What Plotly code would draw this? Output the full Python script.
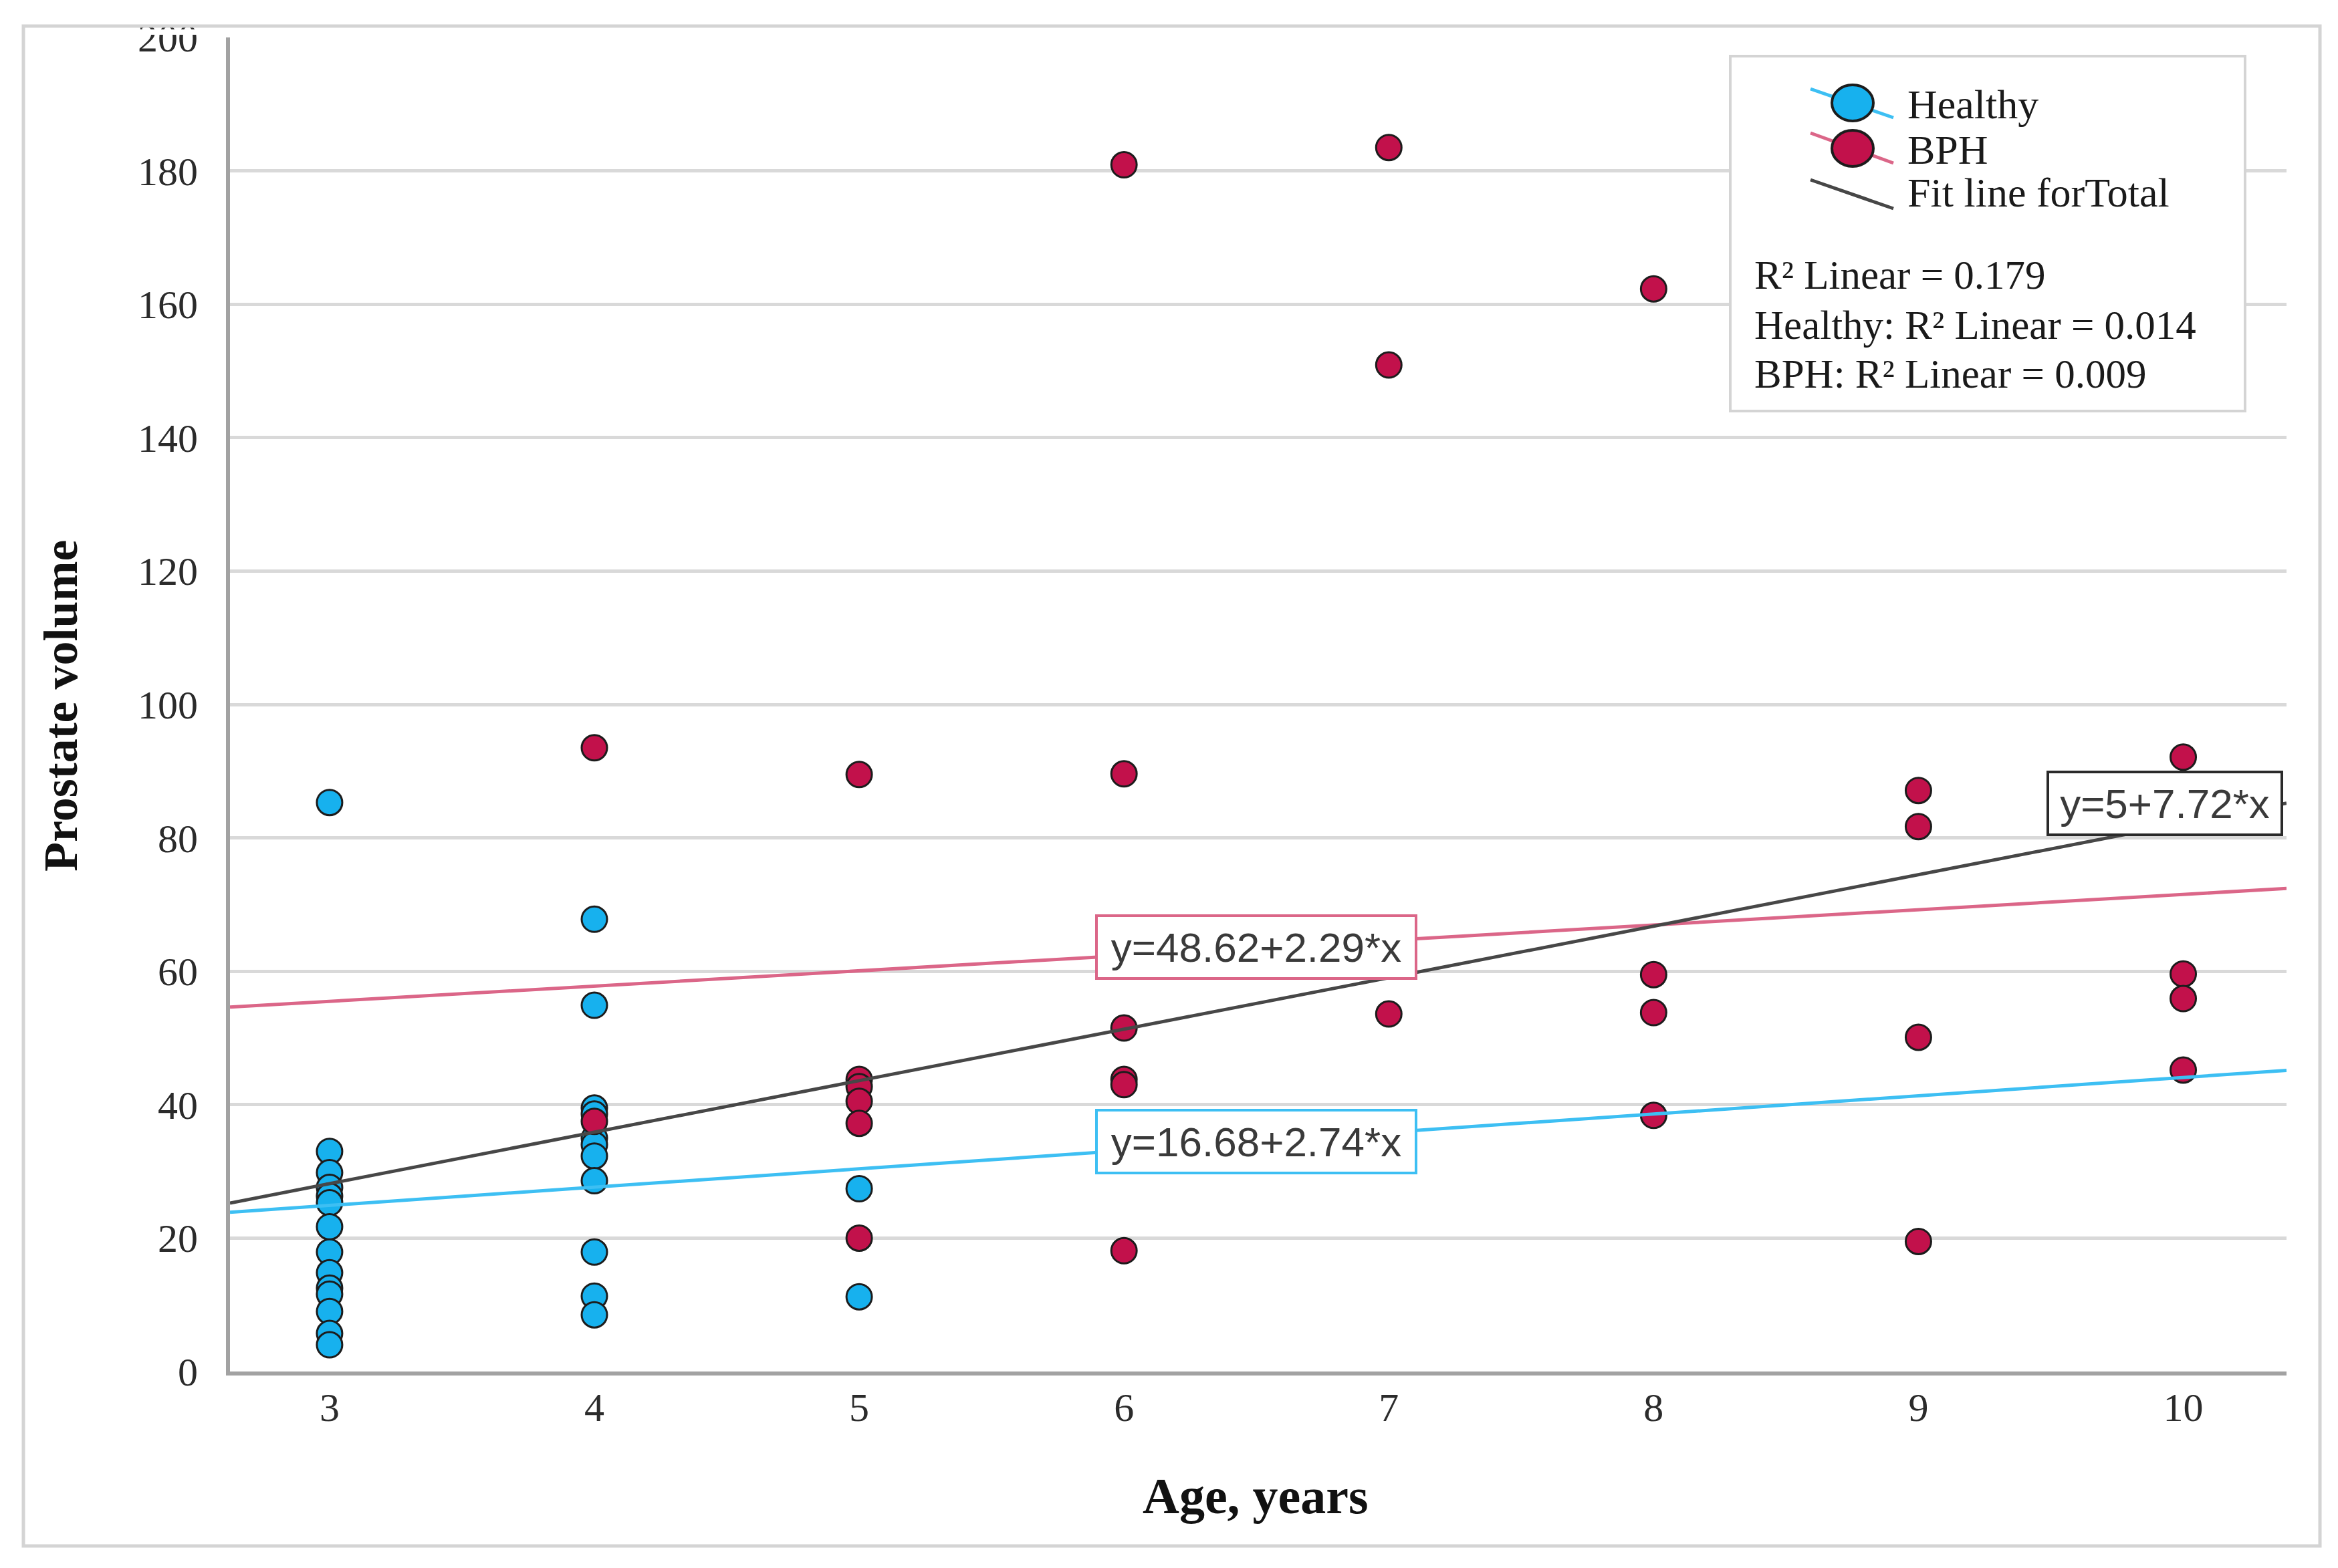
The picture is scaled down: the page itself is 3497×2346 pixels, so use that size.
import numpy as np
import plotly.graph_objects as go

# ---------------- data ----------------
healthy_age = [3] * 14 + [4] * 11 + [5] * 2
healthy_volume = [85.3, 33.0, 29.8, 27.6, 26.3, 25.3, 21.7, 17.9, 14.8, 12.5, 11.6, 9.0, 5.7, 4.0,
                  67.8, 54.9, 39.5, 38.6, 35.0, 34.0, 32.3, 28.6, 17.9, 11.3, 8.5,
                  27.4, 11.2]

bph_age = [4] * 2 + [5] * 6 + [6] * 6 + [7] * 3 + [8] * 4 + [9] * 4 + [10] * 4
bph_volume = [93.5, 37.5,
              89.5, 43.8, 42.7, 40.5, 37.2, 20.0,
              180.9, 89.6, 51.5, 43.8, 43.0, 18.1,
              183.5, 150.9, 53.6,
              162.3, 59.5, 53.8, 38.4,
              87.1, 81.7, 50.1, 19.5,
              92.1, 59.6, 55.9, 45.2]

fit_groups = ["BPH", "Healthy", "Total"]
fit_intercepts = [48.62, 16.68, 5.0]
fit_slopes = [2.29, 2.74, 7.72]
fit_equations = ["y=48.62+2.29*x", "y=16.68+2.74*x", "y=5+7.72*x"]
r2_lines = ["R² Linear = 0.179", "Healthy: R² Linear = 0.014", "BPH: R² Linear = 0.009"]
legend_labels = ["Healthy", "BPH", "Fit line forTotal"]

x_range = [2.624, 10.39]
x_ticks = [3, 4, 5, 6, 7, 8, 9, 10]
y_ticks = [0, 20, 40, 60, 80, 100, 120, 140, 160, 180, 200]

# ---------------- styles ----------------
W, H = 3497, 2346
ML, MR, MT, MB = 336, 85, 48, 302
PW = W - ML - MR
PH = H - MT - MB


def px(x):
    return (x - ML) / PW


def py(y):
    return (H - MB - y) / PH


HEALTHY_FILL = "#17B1EE"
BPH_FILL = "#C2114B"
HEALTHY_LINE = "#3DBFF3"
BPH_LINE = "#DB6688"
TOTAL_LINE = "#474747"
OUTLINE = "#1c1c1c"
GRID = "#d9d9d9"
AXIS = "#a2a2a2"
SERIF = "Liberation Serif"
SANS = "Liberation Sans"

line_colors = {"BPH": BPH_LINE, "Healthy": HEALTHY_LINE, "Total": TOTAL_LINE}
label_pos = {"BPH": (6.5, 63.6), "Healthy": (6.5, 34.5), "Total": (9.93, 85.2)}
label_border = {"BPH": BPH_LINE, "Healthy": HEALTHY_LINE, "Total": "#2a2a2a"}
label_width = {"BPH": 474, "Healthy": 474, "Total": 346}

fig = go.Figure()

fig.add_trace(go.Scatter(
    x=healthy_age, y=healthy_volume, mode="markers", name="Healthy",
    marker=dict(size=38, color=HEALTHY_FILL, line=dict(color=OUTLINE, width=3)),
    showlegend=False))
fig.add_trace(go.Scatter(
    x=bph_age, y=bph_volume, mode="markers", name="BPH",
    marker=dict(size=38, color=BPH_FILL, line=dict(color=OUTLINE, width=3)),
    showlegend=False))

xr = np.array(x_range)
for g, a, b in zip(fit_groups, fit_intercepts, fit_slopes):
    fig.add_trace(go.Scatter(
        x=xr, y=a + b * xr, mode="lines", name=g,
        line=dict(color=line_colors[g], width=5), showlegend=False))

annotations = []
for g, eq in zip(fit_groups, fit_equations):
    lx, ly = label_pos[g]
    annotations.append(dict(
        x=lx, y=ly, xref="x", yref="y", text=eq, showarrow=False,
        xanchor="center", yanchor="middle",
        font=dict(family=SANS, size=62, color="#3a3a3a"),
        bgcolor="white", bordercolor=label_border[g], borderwidth=4,
        borderpad=0, width=label_width[g], height=90, align="center"))

# axis titles
annotations.append(dict(
    x=px(83), y=py(1048), xref="paper", yref="paper", text="<b>Prostate volume</b>",
    textangle=-90, showarrow=False, xanchor="center", yanchor="middle",
    font=dict(family=SERIF, size=72, color="#111111")))
annotations.append(dict(
    x=px(1870), y=py(2230), xref="paper", yref="paper", text="<b>Age, years</b>",
    showarrow=False, xanchor="center", yanchor="middle",
    font=dict(family=SERIF, size=76, color="#111111")))

# legend texts
for lbl, yy in zip(legend_labels, [148, 216, 280]):
    annotations.append(dict(
        x=px(2843), y=py(yy), xref="paper", yref="paper", text=lbl, showarrow=False,
        xanchor="left", yanchor="middle", font=dict(family=SERIF, size=62, color="#1a1a1a")))
for lbl, yy in zip(r2_lines, [404, 479, 551]):
    annotations.append(dict(
        x=px(2614), y=py(yy), xref="paper", yref="paper", text=lbl, showarrow=False,
        xanchor="left", yanchor="middle", font=dict(family=SERIF, size=61, color="#1a1a1a")))

shapes = []
# outer frame
shapes.append(dict(type="rect", xref="paper", yref="paper",
                   x0=px(27), x1=px(3462), y0=py(2305), y1=py(31),
                   line=dict(color="#d4d4d4", width=5), fillcolor="rgba(0,0,0,0)", layer="above"))
# clip top of "200" label
shapes.append(dict(type="rect", xref="paper", yref="paper",
                   x0=px(190), x1=px(332), y0=py(44), y1=py(36),
                   line=dict(width=0), fillcolor="white", layer="above"))
# legend box
shapes.append(dict(type="rect", xref="paper", yref="paper",
                   x0=px(2580), x1=px(3350), y0=py(607), y1=py(76),
                   line=dict(color="#d4d4d4", width=4), fillcolor="white", layer="above"))
# legend symbols
for (y0, y1, cy), lc, fc in [((125, 168, 146), HEALTHY_LINE, HEALTHY_FILL),
                             ((191, 236, 214), BPH_LINE, BPH_FILL)]:
    shapes.append(dict(type="line", xref="paper", yref="paper",
                       x0=px(2700), x1=px(2824), y0=py(y0), y1=py(y1),
                       line=dict(color=lc, width=5), layer="above"))
    shapes.append(dict(type="circle", xref="paper", yref="paper",
                       x0=px(2732), x1=px(2794), y0=py(cy + 27), y1=py(cy - 27),
                       line=dict(color=OUTLINE, width=4), fillcolor=fc, layer="above"))
shapes.append(dict(type="line", xref="paper", yref="paper",
                   x0=px(2700), x1=px(2824), y0=py(261), y1=py(304),
                   line=dict(color=TOTAL_LINE, width=5), layer="above"))

fig.update_layout(
    width=W, height=H,
    margin=dict(l=ML, r=MR, t=MT, b=MB, pad=0),
    paper_bgcolor="white", plot_bgcolor="white",
    showlegend=False,
    annotations=annotations, shapes=shapes,
    xaxis=dict(range=x_range, tickvals=x_ticks, showgrid=False, zeroline=False,
               showline=True, linecolor=AXIS, linewidth=6, ticks="",
               ticklabelstandoff=-4,
               tickfont=dict(family=SERIF, size=60, color="#2b2b2b")),
    yaxis=dict(range=[0, 200], tickvals=y_ticks, showgrid=True, gridcolor=GRID, gridwidth=5,
               zeroline=False, showline=True, linecolor=AXIS, linewidth=6, ticks="",
               ticklabelstandoff=30,
               tickfont=dict(family=SERIF, size=60, color="#2b2b2b")),
)

fig.write_html("out.html")
